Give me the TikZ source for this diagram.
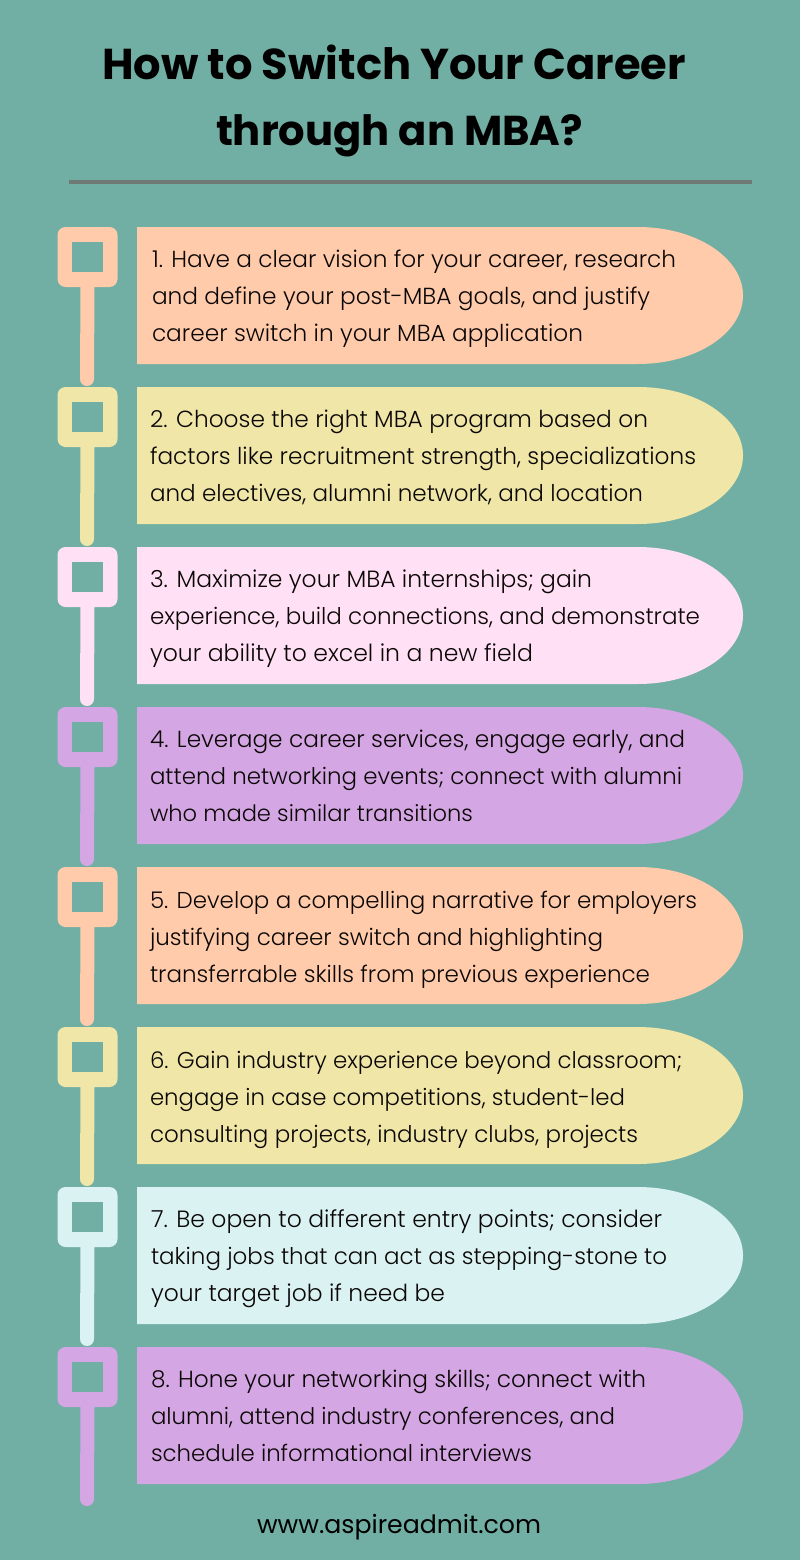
\documentclass[tikz,border=0pt]{standalone}
\usepackage{fontspec}
\setmainfont{Poppins Light}
\newfontfamily\titlef{Poppins}
\definecolor{bgc}{HTML}{71AFA4}
\definecolor{peach}{HTML}{FFCBAB}
\definecolor{butter}{HTML}{EFE6A8}
\definecolor{blush}{HTML}{FFE0F4}
\definecolor{lilac}{HTML}{D4A6E3}
\definecolor{mist}{HTML}{DAF2F2}
\definecolor{rulec}{HTML}{6F7A75}
\definecolor{inkc}{HTML}{0A0706}
\tikzset{
  tagbox/.style={fill=#1,rounded corners=8pt,minimum width=60pt,minimum height=60pt,inner sep=0pt,outer sep=0pt},
  taghole/.style={fill=bgc,minimum width=31pt,minimum height=30pt,inner sep=0pt,outer sep=0pt},
  stem/.style={draw=#1,line width=14pt,line cap=round},
  linetext/.style={anchor=base west,inner sep=0pt,outer sep=0pt,text=inkc},
  headtext/.style={anchor=base west,inner sep=0pt,outer sep=0pt,text=black},
}
% row: number, top y, colour
\newcommand{\rowshape}[3]{%
  \fill[#3] (137,#2) -- (638,#2) arc[start angle=-90,end angle=90,x radius=105,y radius=68.5] -- (137,#2+137) -- cycle;
  \node[tagbox=#3] (tag#1) at (87.5,#2+30) {};
  \node[taghole] (hole#1) at (tag#1.center) {};
  \coordinate (end#1) at (87,#2+152);
  \draw[stem=#3] (tag#1.south) -- (end#1);
}
% name, x, baseline y, width, text
\newcommand{\tline}[5]{\node[linetext] (#1) at (#2,#3) {\resizebox{#4pt}{!}{\strut #5}};}
\begin{document}
\begin{tikzpicture}[x=1pt,y=-1pt]
\useasboundingbox (0,0) rectangle (800,1560);
\fill[bgc] (0,0) rectangle (800,1560);
\node[headtext] (title1) at (102,80) {\resizebox{584pt}{!}{\titlef\bfseries How to Switch Your Career}};
\node[headtext] (title2) at (216,145) {\resizebox{367pt}{!}{\titlef\bfseries through an MBA?}};
\coordinate (ruleL) at (69,182);
\coordinate (ruleR) at (752,182);
\draw[rulec,line width=4pt] (ruleL) -- (ruleR);
\rowshape{1}{227}{peach}
\rowshape{2}{387}{butter}
\rowshape{3}{547}{blush}
\rowshape{4}{707}{lilac}
\rowshape{5}{867}{peach}
\rowshape{6}{1027}{butter}
\rowshape{7}{1187}{mist}
\rowshape{8}{1347}{lilac}
\tline{a1}{152}{267}{524}{1. Have a clear vision for your career, research}
\tline{a2}{152}{304}{498}{and define your post-MBA goals, and justify}
\tline{a3}{152}{341}{431}{career switch in your MBA application}
\tline{b1}{150}{427}{498}{2. Choose the right MBA program based on}
\tline{b2}{150}{464}{546}{factors like recruitment strength, specializations}
\tline{b3}{150}{501}{493}{and electives, alumni network, and location}
\tline{c1}{150}{587}{442}{3. Maximize your MBA internships; gain}
\tline{c2}{150}{624}{550}{experience, build connections, and demonstrate}
\tline{c3}{150}{661}{383}{your ability to excel in a new field}
\tline{d1}{150}{747}{535}{4. Leverage career services, engage early, and}
\tline{d2}{150}{784}{532}{attend networking events; connect with alumni}
\tline{d3}{150}{821}{323}{who made similar transitions}
\tline{e1}{150}{908}{547}{5. Develop a compelling narrative for employers}
\tline{e2}{150}{945}{453}{justifying career switch and highlighting}
\tline{e3}{150}{982}{500}{transferrable skills from previous experience}
\tline{f1}{150}{1068}{532}{6. Gain industry experience beyond classroom;}
\tline{f2}{150}{1105}{475}{engage in case competitions, student-led}
\tline{f3}{150}{1142}{488}{consulting projects, industry clubs, projects}
\tline{g1}{151}{1227}{511}{7. Be open to different entry points; consider}
\tline{g2}{151}{1264}{516}{taking jobs that can act as stepping-stone to}
\tline{g3}{151}{1301}{294}{your target job if need be}
\tline{h1}{151}{1387}{495}{8. Hone your networking skills; connect with}
\tline{h2}{151}{1424}{464}{alumni, attend industry conferences, and}
\tline{h3}{151}{1461}{381}{schedule informational interviews}
\node[headtext] (foot) at (257,1533) {\resizebox{284pt}{!}{\titlef www.aspireadmit.com}};
\end{tikzpicture}
\end{document}
